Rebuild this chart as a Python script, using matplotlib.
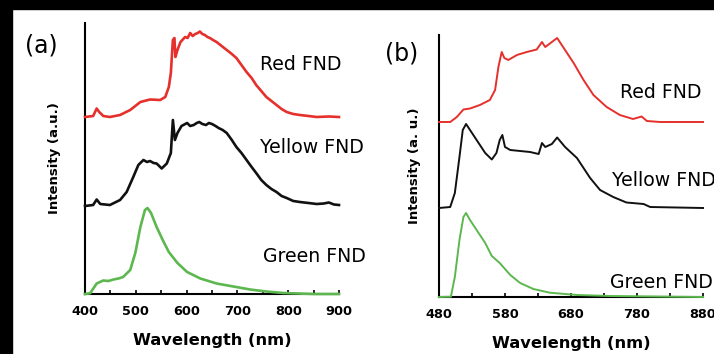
import matplotlib
matplotlib.use("Agg")
import matplotlib.pyplot as plt
from matplotlib.patches import Rectangle

RED = "#e5302c"
BLACK = "#111111"
GREEN = "#5cb84e"

# panel (a): wavelength (nm) / intensity (a.u.)
a_red_wl = [400, 416, 423, 428, 436, 449, 469, 489, 509, 528, 548, 558, 565, 569, 573, 576, 578,
            582, 588, 597, 602, 607, 612, 617, 622, 626, 631, 636, 641, 646, 652, 659, 669, 679,
            689, 698, 708, 718, 728, 737, 747, 757, 767, 777, 787, 797, 810, 823, 840, 856, 880, 900]
a_red_i = [0, 1, 8.5, 5, 1, 0, 2, 7, 15, 17.5, 17, 20, 30, 44, 77, 79, 60,
           67, 75, 80, 79, 84, 81, 83, 84, 85.5, 83, 82, 80, 79, 77, 75, 71, 67,
           63, 59, 52, 45, 39, 32, 26, 20, 16, 12, 8, 5, 3, 2, 1, 0, 0.5, 0]

a_yel_wl = [400, 416, 423, 430, 449, 469, 482, 495, 505, 515, 522, 528, 535, 541, 551, 561, 569,
            573, 577, 582, 590, 601, 607, 614, 620, 625, 631, 638, 644, 650, 657, 663, 671, 679,
            689, 698, 708, 718, 728, 737, 747, 757, 767, 777, 787, 797, 810, 823, 840, 856, 870,
            880, 890, 900]
a_yel_i = [0, 1, 6.5, 2, 1, 6, 14, 29, 41, 46, 44, 45, 43, 42.5, 37.5, 42.5, 53,
           86, 66, 73, 80, 83, 80, 81, 83, 84, 82, 81, 83, 82, 80, 78, 76, 73,
           66, 59, 53, 46, 39, 33, 26, 21, 17, 14, 10, 8, 5, 4, 3, 2, 2.5,
           3.5, 1.5, 1]

a_grn_wl = [400, 410, 423, 436, 446, 456, 466, 475, 489, 499, 509, 518, 523, 530, 541, 553, 565,
            582, 601, 627, 659, 692, 725, 757, 790, 820, 850, 900]
a_grn_i = [0, 0.7, 10.5, 13.5, 13, 14.5, 15.5, 17, 24, 41, 67, 84, 86, 81, 67, 54, 42,
           31, 22, 15.5, 10.5, 7.5, 4.5, 2.5, 1, 0.5, 0, 0]

# panel (b)
b_red_wl = [480, 497, 507, 517, 527, 542, 557, 565, 570, 575, 579, 585, 598, 613, 628, 636, 641,
            648, 659, 668, 684, 699, 714, 734, 754, 774, 787, 795, 815, 880]
b_red_i = [0, 0, 5, 12.5, 13.5, 17, 22, 32, 55, 70, 64, 62, 67, 70, 72.5, 80, 75,
           78.5, 84, 75, 59, 42, 27, 15, 7, 3, 5.5, 1, 0, 0]

b_yel_wl = [480, 497, 504, 511, 516, 521, 527, 537, 550, 560, 567, 572, 576, 580, 588, 603, 618,
            631, 636, 641, 651, 659, 671, 689, 709, 724, 744, 764, 790, 800, 880]
b_yel_i = [0, 1, 15, 51, 78, 84, 78, 68, 55, 48.5, 55, 68, 73, 61, 58, 57, 56,
           54, 65, 61, 64, 70.5, 61, 50, 30, 18, 11, 5.5, 4, 1, 0]

b_grn_wl = [480, 498, 504, 511, 517, 521, 527, 537, 550, 560, 572, 588, 603, 623, 648, 689, 739, 880]
b_grn_i = [0, 0.3, 20, 57, 80, 84, 77, 67, 54, 41, 34, 22, 14, 8, 4.3, 2, 1, 0]

# vertical offsets of the stacked spectra
a_offsets = {"red": 177, "yellow": 88, "green": 0}
b_offsets = {"red": 175, "yellow": 89, "green": 0}

a_major = [400, 500, 600, 700, 800, 900]
a_minor = [450, 550, 650, 750, 850]
b_major = [480, 580, 680, 780, 880]
b_minor = [530, 630, 730, 830]

W, H = 714, 354


def fx(x):
    return x / W


def fy(y):
    return 1 - y / H


fig = plt.figure(figsize=(7.14, 3.54), dpi=100)
fig.patches.append(Rectangle((0, fy(9)), 1, 9 / H, transform=fig.transFigure, color="black", zorder=10))
fig.patches.append(Rectangle((0, 0), fx(12), 1, transform=fig.transFigure, color="black", zorder=10))

ax_a = fig.add_axes([fx(85), fy(294), fx(339) - fx(85), (294 - 23) / H])
ax_b = fig.add_axes([fx(439), fy(297), fx(703) - fx(439), (297 - 35) / H])


def style(ax, xlo, xhi, ytop, major, minor, ylabel, lab_x):
    ax.set_xlim(xlo, xhi)
    ax.set_ylim(0, ytop)
    ax.set_yticks([])
    ax.set_xticks(major)
    ax.set_xticks(minor, minor=True)
    ax.tick_params(axis="x", which="both", direction="in", length=3, width=1.2, pad=8,
                   labelsize=9.3, color="black")
    for lab in ax.get_xticklabels():
        lab.set_fontweight("bold")
    ax.spines["top"].set_visible(False)
    ax.spines["right"].set_visible(False)
    ax.spines["left"].set_linewidth(1.5)
    ax.spines["bottom"].set_linewidth(1.5)
    ax.set_xlabel("Wavelength (nm)", fontsize=11.7, fontweight="bold", labelpad=11)
    ax.set_ylabel(ylabel, fontsize=9.5, fontweight="bold")
    ax.yaxis.set_label_coords(lab_x, 0.5)
    ax.patch.set_alpha(0)


style(ax_a, 400, 900, 271, a_major, a_minor, "Intensity (a.u.)", -0.094)
style(ax_b, 480, 880, 262, b_major, b_minor, "Intensity (a. u.)", -0.068)

for wl, val, key, col in [(a_red_wl, a_red_i, "red", RED),
                          (a_yel_wl, a_yel_i, "yellow", BLACK),
                          (a_grn_wl, a_grn_i, "green", GREEN)]:
    ax_a.plot(wl, [v + a_offsets[key] for v in val], color=col, lw=1.9, zorder=3, clip_on=False)

for wl, val, key, col in [(b_red_wl, b_red_i, "red", RED),
                          (b_yel_wl, b_yel_i, "yellow", BLACK),
                          (b_grn_wl, b_grn_i, "green", GREEN)]:
    ax_b.plot(wl, [v + b_offsets[key] for v in val], color=col, lw=1.4, zorder=3, clip_on=False)

labels = [("(a)", 25, 45, 17), ("Red FND", 260, 65, 13.6), ("Yellow FND", 260, 148, 13.6),
          ("Green FND", 263, 257, 13.6), ("(b)", 385, 54, 17), ("Red FND", 620, 92, 13.6),
          ("Yellow FND", 612, 180, 13.6), ("Green FND", 610, 282, 13.6)]
for txt, x, y, size in labels:
    fig.text(fx(x), fy(y), txt, fontsize=size, ha="left", va="center")

fig.savefig("out.png", dpi=100)
